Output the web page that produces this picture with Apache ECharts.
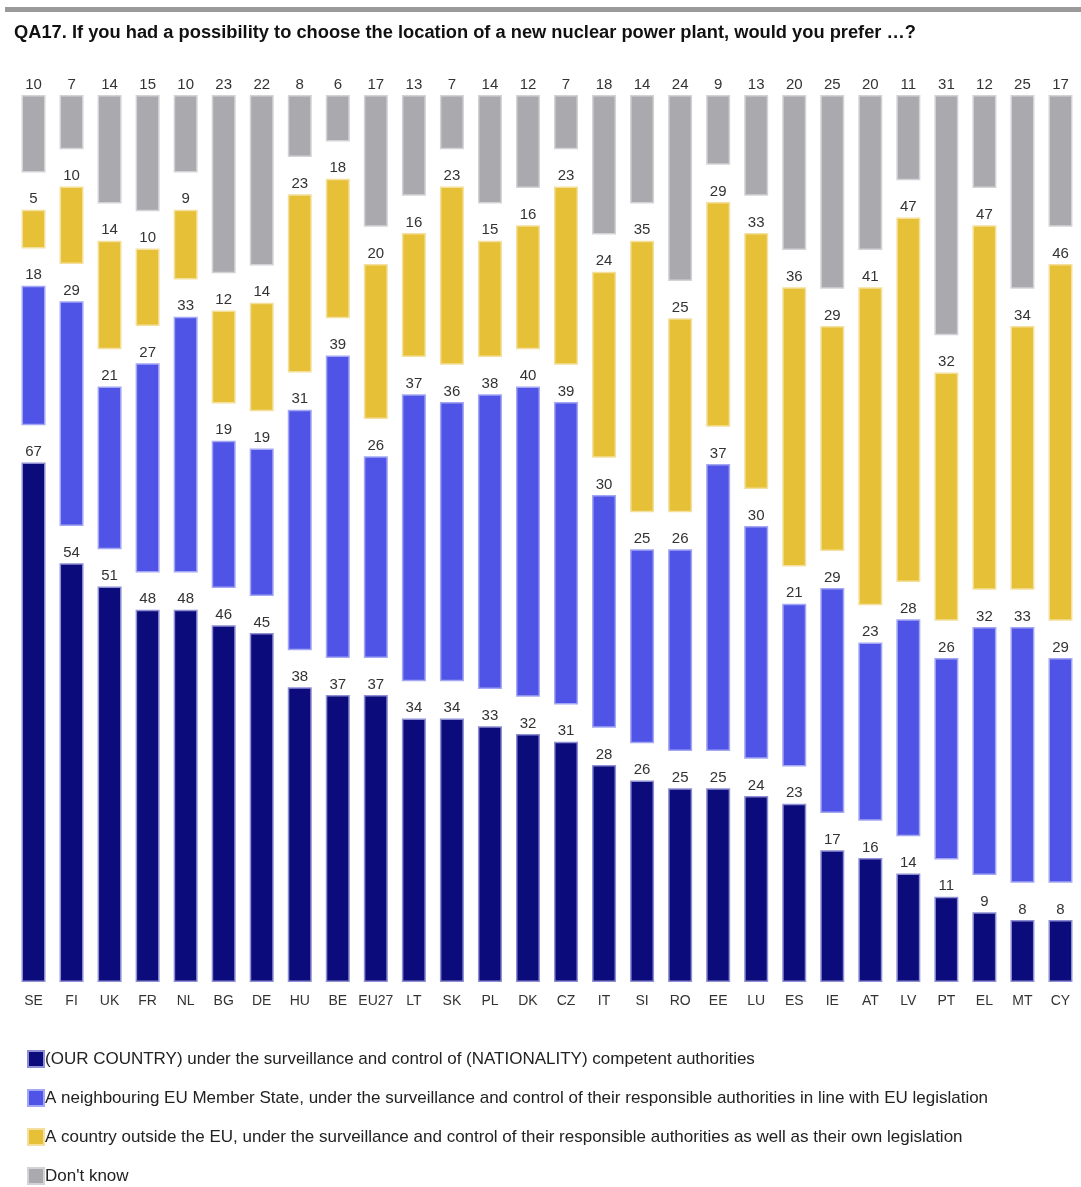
<!DOCTYPE html>
<html>
<head>
<meta charset="utf-8">
<script src="https://cdn.jsdelivr.net/npm/echarts@6/dist/echarts.min.js"></script>
<style>
html,body{margin:0;padding:0;background:#fff;}
#chart{width:1081px;height:1187px;}
</style>
</head>
<body>
<div id="chart"></div>
<script>
var categories = ['SE','FI','UK','FR','NL','BG','DE','HU','BE','EU27','LT','SK','PL','DK','CZ','IT','SI','RO','EE','LU','ES','IE','AT','LV','PT','EL','MT','CY'];
var ourCountry = [67,54,51,48,48,46,45,38,37,37,34,34,33,32,31,28,26,25,25,24,23,17,16,14,11,9,8,8];
var neighbourEU = [18,29,21,27,33,19,19,31,39,26,37,36,38,40,39,30,25,26,37,30,21,29,23,28,26,32,33,29];
var outsideEU = [5,10,14,10,9,12,14,23,18,20,16,23,15,16,23,24,35,25,29,33,36,29,41,47,32,47,34,46];
var dontKnow = [10,7,14,15,10,23,22,8,6,17,13,7,14,12,7,18,14,24,9,13,20,25,20,11,31,12,25,17];
var seriesNames = [
  '(OUR COUNTRY) under the surveillance and control of (NATIONALITY) competent authorities',
  'A neighbouring EU Member State, under the surveillance and control of their responsible authorities in line with EU legislation',
  'A country outside the EU, under the surveillance and control of their responsible authorities as well as their own legislation',
  "Don't know"
];

var GAP = 4.8; // visual spacer between stacked segments (style only)
var FONT = '"Liberation Sans",Arial,sans-serif';
var chart = echarts.init(document.getElementById('chart'));

function seg(name, data, color, border) {
  return {
    name: name, type: 'bar', stack: 's', data: data, barWidth: 24,
    itemStyle: {color: color, borderColor: border, borderWidth: 1.5},
    label: {show: true, position: 'top', distance: 3, color: '#333', fontSize: 15, fontFamily: FONT},
    emphasis: {disabled: true}
  };
}
function spacer(id) {
  return {
    name: id, type: 'bar', stack: 's', silent: true, barWidth: 24,
    data: categories.map(function(){ return GAP; }),
    itemStyle: {color: 'rgba(0,0,0,0)'}, label: {show: false}
  };
}

chart.setOption({
  animation: false,
  backgroundColor: '#fff',
  title: {
    text: 'QA17. If you had a possibility to choose the location of a new nuclear power plant, would you prefer …?',
    left: 14, top: 24, padding: 0,
    textStyle: {fontFamily: FONT, fontWeight: 'bold', fontSize: 18.3, color: '#111'}
  },
  graphic: [{type: 'rect', left: 5, top: 7, shape: {width: 1076, height: 5}, style: {fill: '#9a9a9a'}}],
  legend: {
    orient: 'vertical', left: 27, top: 1050, height: 160, padding: 0,
    itemWidth: 16, itemHeight: 16, itemGap: 21,
    icon: 'rect',
    data: seriesNames,
    textStyle: {fontFamily: FONT, fontSize: 17, color: '#222', padding: [0,0,0,-4]}
  },
  grid: {left: 14.5, right: 1.5, top: 95, bottom: 205},
  xAxis: {
    type: 'category', data: categories,
    axisLine: {show: false}, axisTick: {show: false},
    axisLabel: {color: '#333', fontSize: 14, fontFamily: FONT, margin: 12, interval: 0}
  },
  yAxis: {type: 'value', min: 0, max: 100 + 3 * GAP, show: false, splitLine: {show: false}},
  series: [
    seg(seriesNames[0], ourCountry, '#0b0b7b', '#8e8ed4'),
    spacer('gap1'),
    seg(seriesNames[1], neighbourEU, '#4f54e7', '#a3a6f2'),
    spacer('gap2'),
    seg(seriesNames[2], outsideEU, '#e6c138', '#f4e09c'),
    spacer('gap3'),
    seg(seriesNames[3], dontKnow, '#a9a9ae', '#d3d3d7')
  ]
});
</script>
</body>
</html>
